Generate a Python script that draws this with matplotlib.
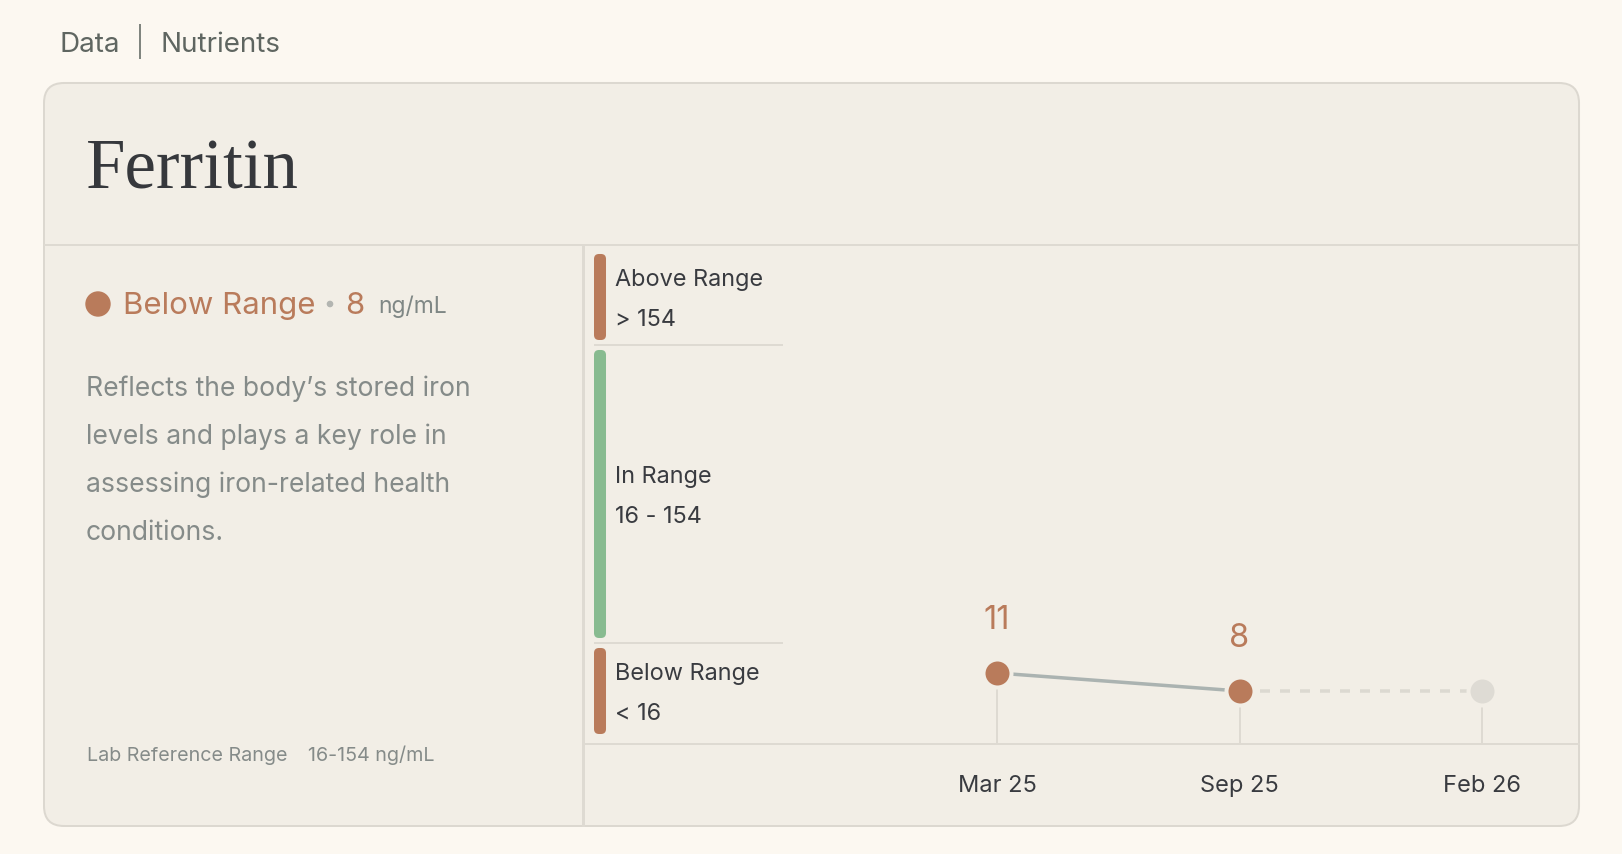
import numpy as np
import matplotlib
matplotlib.use("Agg")
import matplotlib.pyplot as plt
from matplotlib.patches import FancyBboxPatch, Circle

# ---------------- data ----------------
breadcrumb = ["Data", "Nutrients"]
marker_name = "Ferritin"
status = "Below Range"
latest_value = 8
unit = "ng/mL"
description = ["Reflects the body\u2019s stored iron",
               "levels and plays a key role in",
               "assessing iron-related health",
               "conditions."]
ref_label = "Lab Reference Range"
ref_low = 16
ref_high = 154
band_titles = ["Below Range", "In Range", "Above Range"]
band_limits = ["< 16", "16 - 154", "> 154"]
dates = ["Mar 25", "Sep 25", "Feb 26"]
values = [11, 8]          # measured results; the last date is the upcoming test

# ---------------- style ----------------
W, H, DPI = 1622, 854, 100
PT = 72 / DPI
PAGE = "#fcf8f1"
CARD = "#f2eee6"
BORDER = "#dcd8d0"
RULE = "#dedad2"
TERRA = "#b97b5b"
GREEN = "#88bb90"
INK = "#393b40"
MUTED = "#858b89"
CRUMB = "#5f6661"
LINE = "#abb3b1"
DASH = "#dcd9d1"
GHOST = "#dedbd4"

plt.rcParams["font.family"] = ["Inter", "DejaVu Sans"]
plt.rcParams["lines.scale_dashes"] = False

fig = plt.figure(figsize=((W + 0.01) / DPI, (H + 0.01) / DPI), dpi=DPI, facecolor=PAGE)

# background axes in pixel coordinates (origin top-left)
bg = fig.add_axes([0, 0, 1, 1])
bg.set_xlim(0, W)
bg.set_ylim(H, 0)
bg.axis("off")

# breadcrumb
bg.text(59, 52, breadcrumb[0], fontsize=20, color=CRUMB, va="baseline")
bg.plot([140, 140], [25, 58], color="#80857f", lw=2 * PT)
bg.text(160, 52, breadcrumb[1], fontsize=20, color=CRUMB, va="baseline")

# card
card = FancyBboxPatch((44, 83), 1535, 743, boxstyle="round,pad=0,rounding_size=20",
                      fc=CARD, ec=BORDER, lw=2 * PT)
bg.add_patch(card)
bg.plot([45, 1578], [245, 245], color=RULE, lw=2 * PT)
bg.plot([583, 583], [245, 825], color=RULE, lw=3 * PT)

# title
bg.text(86, 188, marker_name, family=["Liberation Serif", "DejaVu Serif"], fontsize=51,
        color="#36383c", va="baseline")

# status row
bg.add_patch(Circle((98, 304), 12, color=TERRA))
bg.text(123, 314, status, fontsize=22.4, color=TERRA, va="baseline")
bg.add_patch(Circle((330, 304), 2.6, color="#b3b5b1"))
bg.text(345, 314, str(latest_value), fontsize=22.4, color=TERRA, va="baseline")
bg.text(378, 313, unit, fontsize=16.5, color="#7f8785", va="baseline")

# description
for k, line in enumerate(description):
    bg.text(86, 396 + 48 * k, line, fontsize=19.1, color=MUTED, va="baseline")

# lab reference range
bg.text(87, 761, ref_label, fontsize=14.2, color=MUTED, va="baseline")
bg.text(308, 761, f"{ref_low}-{ref_high} {unit}", fontsize=14.2, color=MUTED, va="baseline")

# ---------------- chart ----------------
AX_L, AX_R, AX_T, AX_B = 585, 1579, 245, 744
ax = fig.add_axes([AX_L / W, (H - AX_B) / H, (AX_R - AX_L) / W, (AX_B - AX_T) / H])
ax.patch.set_visible(False)

SLOPE_LOW = 6.0
SLOPE_HIGH = 298.0 / (ref_high - ref_low)
OFF = 5.0
P_LOW = OFF + SLOPE_LOW * ref_low


def fwd(v):
    v = np.asarray(v, dtype=float)
    return np.where(v <= ref_low, OFF + SLOPE_LOW * v, P_LOW + (v - ref_low) * SLOPE_HIGH)


def inv(p):
    p = np.asarray(p, dtype=float)
    return np.where(p <= P_LOW, (p - OFF) / SLOPE_LOW, ref_low + (p - P_LOW) / SLOPE_HIGH)


ax.set_yscale("function", functions=(fwd, inv))
y_bot = float(inv(0.0))
y_top = float(inv(AX_B - AX_T))
ax.set_ylim(y_bot, y_top)

idx = np.arange(len(dates))
x0 = 997
step = 242.5
ax.set_xlim((AX_L - x0) / step, (AX_R - x0) / step)

for s in ("left", "right", "top"):
    ax.spines[s].set_visible(False)
ax.spines["bottom"].set_color(RULE)
ax.spines["bottom"].set_linewidth(2 * PT)
ax.set_yticks([])
ax.set_xticks(idx, dates)
ax.tick_params(axis="x", length=0, pad=48 * PT, labelsize=17, labelcolor=INK)
for lab in ax.get_xticklabels():
    lab.set_verticalalignment("baseline")


def ypix(v):
    """data value -> pixel row (top-origin)"""
    return H - ax.transData.transform((0, v))[1]


# band separators
yax = ax.get_yaxis_transform()
sx0 = (594 - AX_L) / (AX_R - AX_L)
sx1 = (783 - AX_L) / (AX_R - AX_L)
ax.hlines([ref_low, ref_high], sx0, sx1, transform=yax, color=RULE, lw=2 * PT)

# band bars + labels
edges = [y_bot, ref_low, ref_high, y_top]
colors = [TERRA, GREEN, TERRA]
for b in range(3):
    p_bot = ypix(edges[b])
    p_top = ypix(edges[b + 1])
    top = p_top + (9 if b == 2 else 5)
    bot = p_bot - (10 if b == 0 else 5)
    bg.add_patch(FancyBboxPatch((594, top), 12, bot - top,
                                boxstyle="round,pad=0,rounding_size=5",
                                fc=colors[b], ec="none"))
    c = (top + bot) / 2
    bg.text(615, c - 11, band_titles[b], fontsize=16.9, color=INK, va="baseline")
    bg.text(615, c + 29, band_limits[b], fontsize=16.9, color=INK, va="baseline")

# series
n = len(values)
upcoming = values[-1]
stem_vals = list(values) + [upcoming] * (len(dates) - n)
ax.vlines(idx, y_bot, stem_vals, color=RULE, lw=2 * PT, zorder=1)
ax.plot(idx[:n], values, color=LINE, lw=3.5 * PT, solid_capstyle="butt", zorder=2)
ax.plot(idx[n - 1:], stem_vals[n - 1:], color=DASH, lw=3.5 * PT,
        dashes=(10 * PT, 10 * PT), zorder=2)
ax.plot(idx[n:], stem_vals[n:], "o", ms=28 * PT, mfc=GHOST, mec=CARD, mew=4 * PT, zorder=3)
ax.plot(idx[:n], values, "o", ms=28 * PT, mfc=TERRA, mec=CARD, mew=4 * PT, zorder=4)
for i, v in zip(idx[:n], values):
    ax.annotate(str(v), (i, v), xytext=(0, 44), textcoords="offset pixels",
                ha="center", va="baseline", fontsize=23.5, color=TERRA)

fig.savefig("out.png", dpi=DPI, facecolor=PAGE)
